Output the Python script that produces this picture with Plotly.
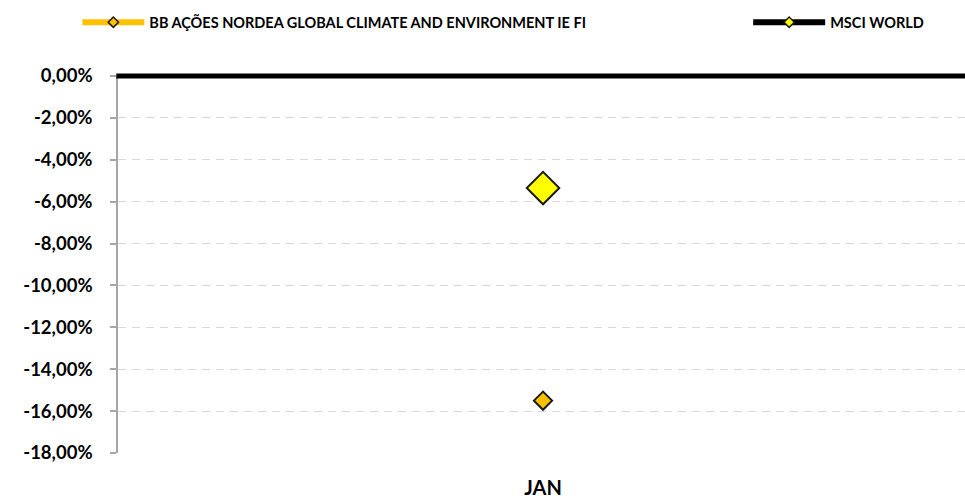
import plotly.graph_objects as go

categories = ["JAN"]
bb_fund = [-15.5]
msci_world = [-5.35]
y_ticks = [0, -2, -4, -6, -8, -10, -12, -14, -16, -18]
y_tick_labels = ["0,00%", "-2,00%", "-4,00%", "-6,00%", "-8,00%", "-10,00%",
                 "-12,00%", "-14,00%", "-16,00%", "-18,00%"]
names = ["BB AÇÕES NORDEA GLOBAL CLIMATE AND ENVIRONMENT IE FI", "MSCI WORLD"]

FONT = "Lato"
ORANGE = "#FFC000"
YELLOW = "#FFFF00"

fig = go.Figure()
# plotted points
fig.add_trace(go.Scatter(
    x=categories, y=bb_fund, mode="markers", showlegend=False,
    marker=dict(symbol="diamond", size=14, color=ORANGE,
                line=dict(color="#1a1a1a", width=2)),
))
fig.add_trace(go.Scatter(
    x=categories, y=msci_world, mode="markers", showlegend=False,
    marker=dict(symbol="diamond", size=25, color=YELLOW,
                line=dict(color="#1a1a1a", width=2)),
))
# legend entries (line + small marker)
for nm, col, mcol, lg in [(names[0], ORANGE, ORANGE, "legend"),
                          (names[1], "#000000", YELLOW, "legend2")]:
    fig.add_trace(go.Scatter(
        x=[None], y=[None], mode="lines+markers", name=nm, legend=lg,
        line=dict(color=col, width=6),
        marker=dict(symbol="diamond", size=8, color=mcol,
                    line=dict(color="#1a1a1a", width=1.5)),
    ))

# thick black category-axis line at 0% (top edge of plot area)
fig.add_shape(type="line", xref="paper", yref="paper", x0=-0.002, x1=1,
              y0=1, y1=1, line=dict(color="black", width=5), layer="above")

legend_common = dict(orientation="h", yref="paper", y=1.185, yanchor="top",
                     xanchor="left", itemsizing="trace", bgcolor="rgba(0,0,0,0)",
                     font=dict(family=FONT, size=14.5, color="#000000", weight="bold"))

fig.update_layout(
    width=965, height=498,
    margin=dict(l=118, r=0, t=76, b=45, autoexpand=False),
    paper_bgcolor="white", plot_bgcolor="white",
    font=dict(family=FONT, size=15, color="#000000"),
    showlegend=True,
    legend=dict(x=-0.048, itemwidth=62, **legend_common),
    legend2=dict(x=0.744, itemwidth=72, **legend_common),
)
fig.update_xaxes(
    type="category", range=[-0.5, 0.4964], automargin=False,
    showgrid=False, showline=False, zeroline=False, ticks="",
    ticklabelstandoff=21,
    tickfont=dict(family=FONT, size=20, color="#000000", weight="bold"),
)
fig.update_yaxes(
    range=[-18, 0], tickvals=y_ticks, ticktext=y_tick_labels, automargin=False,
    showgrid=True, gridcolor="#D9D9D9", griddash="8px,6px", gridwidth=1.2,
    zeroline=False, showline=True, linecolor="#A6A6A6", linewidth=1.5,
    ticks="outside", ticklen=6, tickcolor="#A6A6A6", tickwidth=1.5,
    ticklabelstandoff=14,
    tickfont=dict(family=FONT, size=18.5, color="#000000", weight="bold"),
)

fig.write_html("out.html", config={"displayModeBar": False},
               post_script="document.body.style.margin='0';")
